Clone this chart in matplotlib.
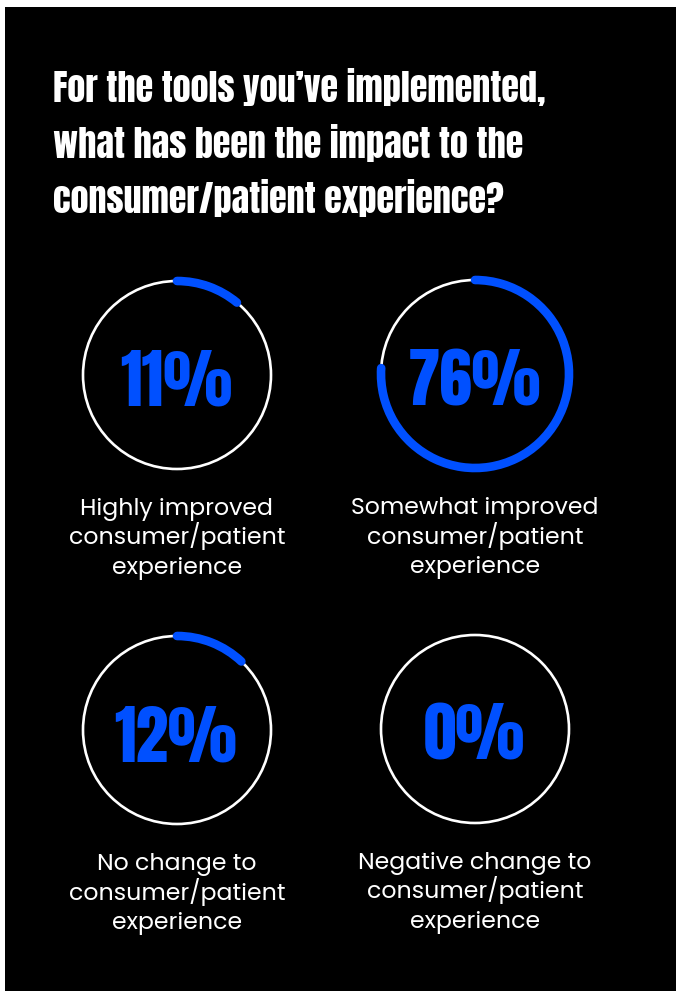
import matplotlib
matplotlib.use("Agg")
import matplotlib.pyplot as plt
from matplotlib.patches import Rectangle, Circle, Arc

# ---------------- DATOS ----------------
titulo = [
    "For the tools you’ve implemented,",
    "what has been the impact to the",
    "consumer/patient experience?",
]
valores = [11, 76, 12, 0]
etiquetas = [
    ["Highly improved", "consumer/patient", "experience"],
    ["Somewhat improved", "consumer/patient", "experience"],
    ["No change to", "consumer/patient", "experience"],
    ["Negative change to", "consumer/patient", "experience"],
]

# ---------------- ESTILO / LAYOUT (pixeles) ----------------
W, H = 676, 991
AZUL = "#0050ff"
FUENTE_TIT = ["Anton", "Liberation Sans Narrow", "DejaVu Sans"]
FUENTE_LBL = ["Poppins", "Open Sans", "DejaVu Sans"]
centros = [(177, 375), (475, 374), (177, 730), (475, 729)]
RADIO = 94

fig = plt.figure(figsize=(W / 100, H / 100), dpi=100, facecolor="white")
ax = fig.add_axes([0, 0, 1, 1])
ax.set_xlim(0, W)
ax.set_ylim(H, 0)
ax.set_aspect("equal")
ax.axis("off")

ax.add_patch(Rectangle((5, 7), W, H, facecolor="black", edgecolor="none"))

# titulo
for i, linea in enumerate(titulo):
    ax.text(53, 102 + i * 55.5, linea, color="white", fontsize=26,
            family=FUENTE_TIT, ha="left", va="baseline")

# anillos
for (cx, cy), v, lbl in zip(centros, valores, etiquetas):
    ax.add_patch(Circle((cx, cy), RADIO, fill=False, edgecolor="white", lw=1.9))
    if v > 0:
        ax.add_patch(Arc((cx, cy), 2 * RADIO, 2 * RADIO, theta1=-90,
                         theta2=-90 + 360 * v / 100, color=AZUL, lw=6.2,
                         capstyle="round"))
    ax.text(cx - 1, cy + 31, f"{v}%", color=AZUL, fontsize=47,
            family=FUENTE_TIT, ha="center", va="baseline")
    for j, t in enumerate(lbl):
        ax.text(cx, cy + 140 + j * 29.5, t, color="white", fontsize=17,
                family=FUENTE_LBL, ha="center", va="baseline")

fig.savefig("out.png", dpi=100, facecolor="white")
